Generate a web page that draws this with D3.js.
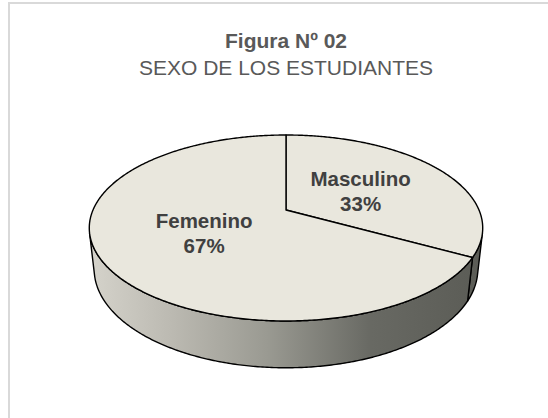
<!DOCTYPE html>
<html>
<head>
<meta charset="utf-8">
<script src="https://cdn.jsdelivr.net/npm/d3@7"></script>
<style>
  html, body { margin: 0; padding: 0; background: #fff; }
  svg { display: block; font-family: "Liberation Sans", Arial, sans-serif; }
</style>
</head>
<body>
<svg id="chart" width="548" height="418"></svg>
<script>
// data
const categories = ["Masculino", "Femenino"];
const values = [33, 67];
const percentLabels = ["33%", "67%"];
const titleText = "Figura Nº 02";
const subtitleText = "SEXO DE LOS ESTUDIANTES";

const W = 548, H = 418;
var svg = d3.select('#chart');

// chart area frame (only left and top edges show in the picture)
svg.append('rect')
  .attr('x', 9).attr('y', 3)
  .attr('width', 600).attr('height', 500)
  .attr('fill', '#fff')
  .attr('stroke', '#d9d9d9')
  .attr('stroke-width', 2);

svg.append('text')
  .attr('x', 286).attr('y', 48)
  .attr('text-anchor', 'middle')
  .attr('font-size', 21).attr('font-weight', 'bold')
  .attr('fill', '#595959')
  .text(titleText);

svg.append('text')
  .attr('x', 286).attr('y', 75)
  .attr('text-anchor', 'middle')
  .attr('font-size', 21)
  .attr('fill', '#595959')
  .text(subtitleText);

// 3D pie: disk seen from above with a bit of perspective
const cx = 286, cy = 210;
const R = 193;        // disk radius in screen px at the centre depth
const thick = 47;     // height of the disk
const elev = Math.asin(89.5 / R);
const D = R * Math.cos(elev) / 0.1935; // eye distance

// angle phi measured clockwise from the back (top of the picture)
function project(phi, r, h) {
  var u = r * Math.sin(phi);
  var w = r * Math.cos(phi);
  var depth = w * Math.cos(elev) - h * Math.sin(elev);
  var f = D / (D + depth);
  return [cx + u * f, cy - (w * Math.sin(elev) + h * Math.cos(elev)) * f];
}

var arcs = d3.pie().sort(null).value(d => d)(values);

var line = d3.line().curve(d3.curveLinear);

function rim(a0, a1, h) {
  var n = Math.max(2, Math.ceil(Math.abs(a1 - a0) / 0.01));
  return d3.range(n + 1).map(i => project(a0 + (a1 - a0) * i / n, R, h));
}

// silhouette generators of the cylinder wall
var alpha = Math.acos(R / (D * Math.cos(elev)));
var vis0 = Math.PI - alpha, vis1 = Math.PI + alpha;

var defs = svg.append('defs');
var grad = defs.append('linearGradient')
  .attr('id', 'side')
  .attr('gradientUnits', 'userSpaceOnUse')
  .attr('x1', cx - R).attr('x2', cx + R)
  .attr('y1', 0).attr('y2', 0);
[[0, '#d4d2ca'], [0.2, '#bcbab2'], [0.45, '#9a9a92'], [0.72, '#686963'], [1, '#5b5c56']]
  .forEach(s => grad.append('stop').attr('offset', s[0]).attr('stop-color', s[1]));

var pieG = svg.append('g');

// side walls first
arcs.forEach(function (a) {
  var s = Math.max(a.startAngle, vis0), e = Math.min(a.endAngle, vis1);
  if (e <= s) return;
  var pts = rim(s, e, 0).concat(rim(e, s, -thick));
  pieG.append('path')
    .attr('d', line(pts) + 'Z')
    .attr('fill', 'url(#side)')
    .attr('stroke', '#000')
    .attr('stroke-width', 1.4)
    .attr('stroke-linejoin', 'round');
});

// top faces
arcs.forEach(function (a) {
  var pts = [project(0, 0, 0)].concat(rim(a.startAngle, a.endAngle, 0));
  pieG.append('path')
    .attr('d', line(pts) + 'Z')
    .attr('fill', '#e9e7dd')
    .attr('stroke', '#000')
    .attr('stroke-width', 1.4)
    .attr('stroke-linejoin', 'round');
});

// data labels
arcs.forEach(function (a, i) {
  var mid = (a.startAngle + a.endAngle) / 2;
  var p = project(mid, R * 0.47, 0);
  var t = pieG.append('text')
    .attr('text-anchor', 'middle')
    .attr('font-size', 20.5).attr('font-weight', 'bold')
    .attr('fill', '#404040');
  t.append('tspan').attr('x', p[0]).attr('y', p[1] - 4).text(categories[i]);
  t.append('tspan').attr('x', p[0]).attr('y', p[1] + 21).text(percentLabels[i]);
});
</script>
</body>
</html>
